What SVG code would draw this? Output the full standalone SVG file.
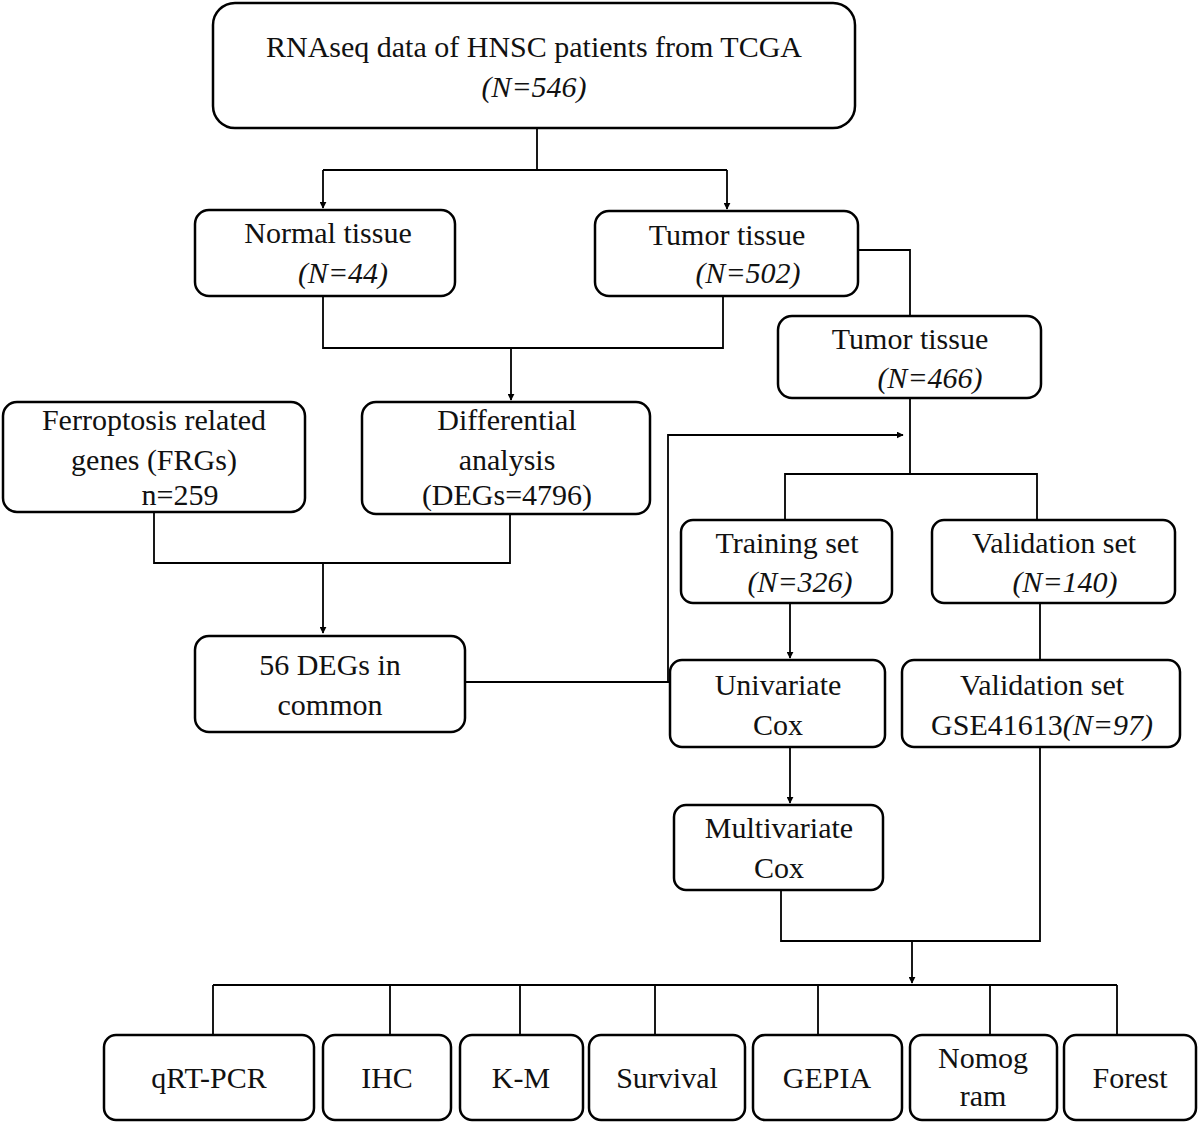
<svg xmlns="http://www.w3.org/2000/svg" width="1200" height="1124" viewBox="0 0 1200 1124">
<style>
.b{fill:#fff;stroke:#000;stroke-width:2.5}
text{font-family:"Liberation Serif",serif;font-size:30px;text-anchor:middle;fill:#111}
.i{font-style:italic}
.c{fill:none;stroke:#000;stroke-width:1.8}
</style>
<defs><marker id="a" viewBox="0 0 10 10" refX="9" refY="5" markerWidth="7" markerHeight="7" orient="auto" markerUnits="userSpaceOnUse"><path d="M0 0L10 5L0 10z"/></marker></defs>
<rect width="1200" height="1124" fill="#fff"/>
<g id="connectors">
<path class="c" d="M537 128V170M323 170H727"/>
<path class="c" d="M323 170V208" marker-end="url(#a)"/>
<path class="c" d="M727 170V209" marker-end="url(#a)"/>
<path class="c" d="M323 296V348H723V296"/>
<path class="c" d="M511 348V400" marker-end="url(#a)"/>
<path class="c" d="M858 250H910V316"/>
<path class="c" d="M910 398V474M785 520V474H1037V520"/>
<path class="c" d="M154 512V563H510V514"/>
<path class="c" d="M323 563V633" marker-end="url(#a)"/>
<path class="c" d="M465 682H670M668 682V435H903" marker-end="url(#a)"/>
<path class="c" d="M790 603V658" marker-end="url(#a)"/>
<path class="c" d="M1040 603V660"/>
<path class="c" d="M790 747V803" marker-end="url(#a)"/>
<path class="c" d="M781 890V941H1040V747"/>
<path class="c" d="M912 941V983" marker-end="url(#a)"/>
<path class="c" d="M213 985H1117M213 985V1035M390 985V1035M520 985V1035M655 985V1035M818 985V1035M990 985V1035M1117 985V1035"/>
</g>
<g id="n1"><rect class="b" x="213" y="3" width="642" height="125" rx="22"/><text x="534" y="57">RNAseq data of HNSC patients from TCGA</text><text class="i" x="534" y="97">(N=546)</text></g>
<g id="n2"><rect class="b" x="195" y="210" width="260" height="86" rx="14"/><text x="328" y="243">Normal tissue</text><text class="i" x="343" y="283">(N=44)</text></g>
<g id="n3"><rect class="b" x="595" y="211" width="263" height="85" rx="14"/><text x="727" y="245">Tumor tissue</text><text class="i" x="748" y="283">(N=502)</text></g>
<g id="n4"><rect class="b" x="778" y="316" width="263" height="82" rx="14"/><text x="910" y="349">Tumor tissue</text><text class="i" x="930" y="388">(N=466)</text></g>
<g id="n5"><rect class="b" x="3" y="402" width="302" height="110" rx="14"/><text x="154" y="430">Ferroptosis related</text><text x="154" y="470">genes (FRGs)</text><text x="180" y="505">n=259</text></g>
<g id="n6"><rect class="b" x="362" y="402" width="288" height="112" rx="14"/><text x="507" y="430">Differential</text><text x="507" y="470">analysis</text><text x="507" y="505">(DEGs=4796)</text></g>
<g id="n7"><rect class="b" x="195" y="636" width="270" height="96" rx="14"/><text x="330" y="675">56 DEGs in</text><text x="330" y="715">common</text></g>
<g id="n8"><rect class="b" x="681" y="520" width="211" height="83" rx="12"/><text x="787" y="553">Training set</text><text class="i" x="800" y="592">(N=326)</text></g>
<g id="n9"><rect class="b" x="932" y="520" width="243" height="83" rx="12"/><text x="1054" y="553">Validation set</text><text class="i" x="1065" y="592">(N=140)</text></g>
<g id="n10"><rect class="b" x="670" y="660" width="215" height="87" rx="12"/><text x="778" y="695">Univariate</text><text x="778" y="735">Cox</text></g>
<g id="n11"><rect class="b" x="902" y="660" width="278" height="87" rx="12"/><text x="1042" y="695">Validation set</text><text x="1042" y="735">GSE41613<tspan class="i">(N=97)</tspan></text></g>
<g id="n12"><rect class="b" x="674" y="805" width="209" height="85" rx="12"/><text x="779" y="838">Multivariate</text><text x="779" y="878">Cox</text></g>
<g id="b1"><rect class="b" x="104" y="1035" width="210" height="85" rx="12"/><text x="209" y="1088">qRT-PCR</text></g>
<g id="b2"><rect class="b" x="323" y="1035" width="128" height="85" rx="12"/><text x="387" y="1088">IHC</text></g>
<g id="b3"><rect class="b" x="460" y="1035" width="123" height="85" rx="12"/><text x="521" y="1088">K-M</text></g>
<g id="b4"><rect class="b" x="589" y="1035" width="156" height="85" rx="12"/><text x="667" y="1088">Survival</text></g>
<g id="b5"><rect class="b" x="753" y="1035" width="149" height="85" rx="12"/><text x="827" y="1088">GEPIA</text></g>
<g id="b6"><rect class="b" x="910" y="1035" width="147" height="85" rx="12"/><text x="983" y="1068">Nomog</text><text x="983" y="1106">ram</text></g>
<g id="b7"><rect class="b" x="1064" y="1035" width="132" height="85" rx="12"/><text x="1130" y="1088">Forest</text></g>
</svg>
